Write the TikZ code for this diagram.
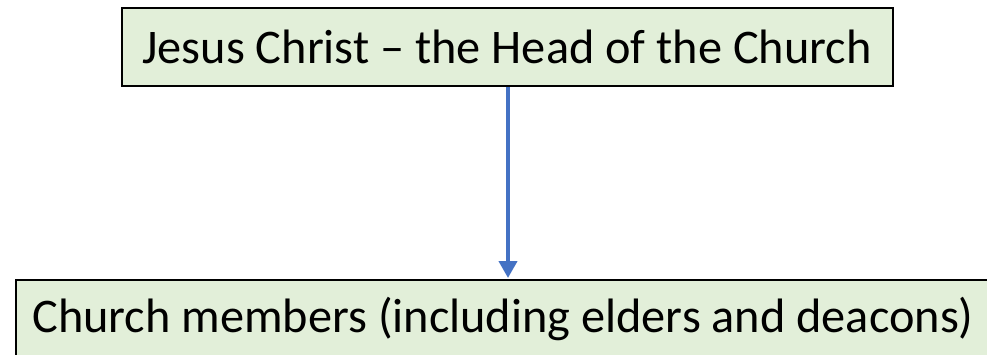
\documentclass[tikz,border=0pt]{standalone}
\usepackage{fontspec}
\setmainfont{Carlito}
\usetikzlibrary{arrows.meta}
\definecolor{boxfill}{HTML}{E2EFD9}
\definecolor{arrowblue}{HTML}{4472C4}
\tikzset{
  greenbox/.style={draw=black, line width=2pt, fill=boxfill, inner sep=0pt,
    minimum height=78pt, font=\fontsize{48.3}{52}\selectfont, anchor=center},
  connector/.style={draw=arrowblue, line width=4pt,
    -{Triangle[width=18pt,length=17pt]}, shorten >=1pt}
}
\begin{document}
\begin{tikzpicture}[x=1pt,y=-1pt]
\clip (0,0) rectangle (987,354);
\useasboundingbox (0,0) rectangle (987,354);
\fill[white] (0,0) rectangle (987,354);
\node[greenbox, minimum width=771pt] (head) at (507,47) {Jesus Christ -- the Head of the Church};
\node[greenbox, minimum width=974pt] (members) at (503,319) {Church members (including elders and deacons)};
\draw[connector] (head.south -| 508,0) -- (members.north -| 508,0);
\end{tikzpicture}
\end{document}
